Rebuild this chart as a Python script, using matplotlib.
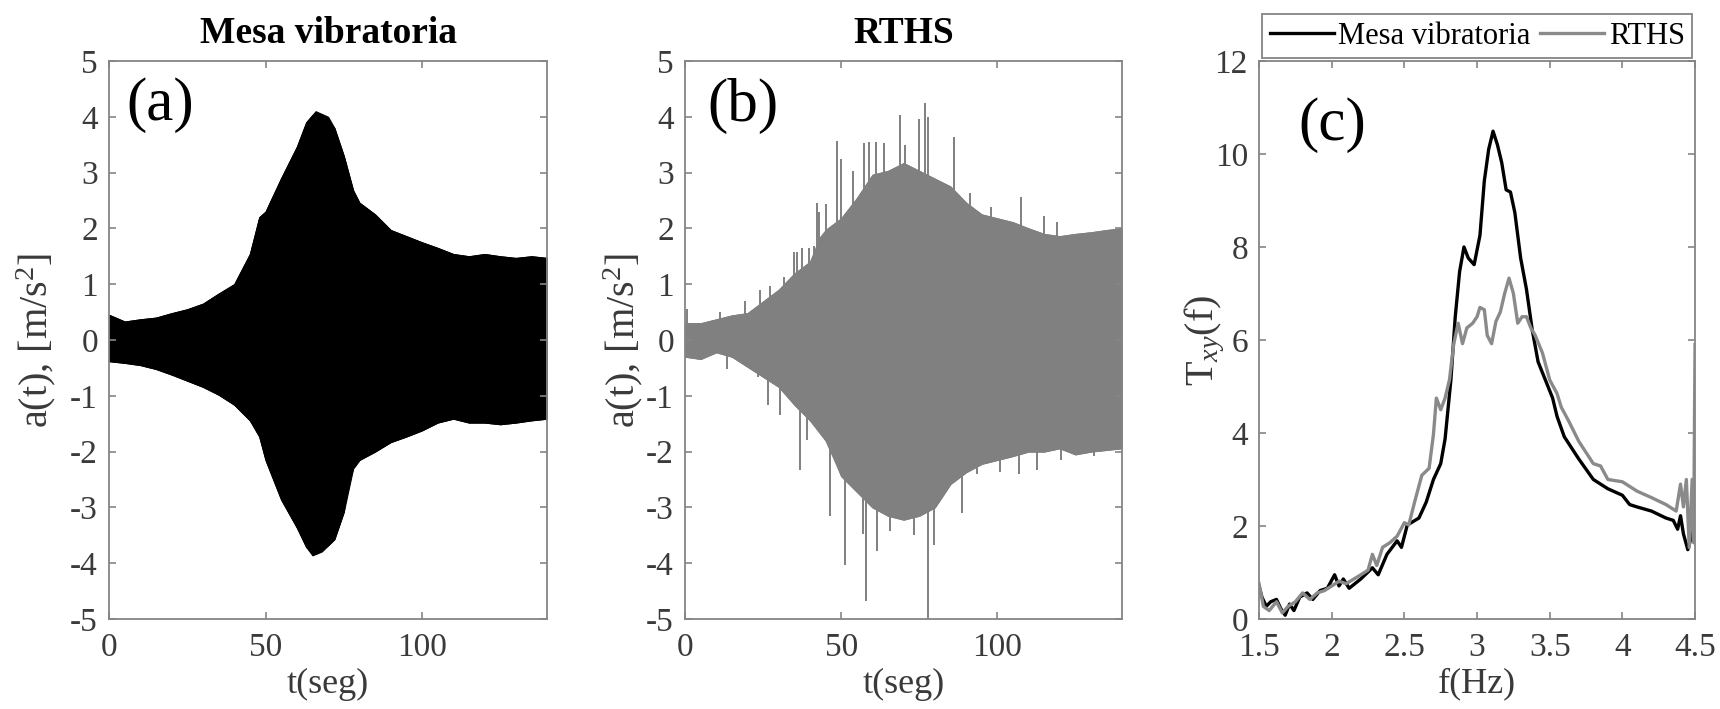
import numpy as np
import matplotlib
matplotlib.use("Agg")
import matplotlib.pyplot as plt

plt.rcParams["font.family"] = ["Liberation Serif", "DejaVu Serif"]
plt.rcParams["mathtext.fontset"] = "custom"
plt.rcParams["mathtext.rm"] = "Liberation Serif"
plt.rcParams["mathtext.it"] = "Liberation Serif:italic"
plt.rcParams["axes.unicode_minus"] = False

# --- (a) Mesa vibratoria: envelope of the acceleration record
t_a = [0, 5, 10, 15, 20, 25, 30, 35, 40, 45, 48, 50, 55, 60, 63, 66, 70, 72, 75, 78,
       80, 85, 90, 95, 100, 105, 110, 115, 120, 125, 130, 135, 140]
up_a = [0.45, 0.33, 0.37, 0.40, 0.48, 0.55, 0.65, 0.83, 1.0, 1.54, 2.2, 2.3, 2.9, 3.46, 3.9,
        4.1, 4.0, 3.8, 3.3, 2.68, 2.46, 2.25, 1.97, 1.86, 1.75, 1.65, 1.54, 1.5, 1.54, 1.5,
        1.47, 1.5, 1.47]
t_a_lo = [0, 5, 10, 15, 20, 25, 30, 35, 40, 45, 48, 50, 55, 60, 63, 65, 68, 72, 75, 76,
          78, 80, 85, 90, 95, 100, 105, 110, 115, 120, 125, 130, 135, 140]
lo_a = [-0.38, -0.41, -0.45, -0.52, -0.62, -0.73, -0.84, -0.98, -1.16, -1.44, -1.73, -2.15,
        -2.86, -3.36, -3.71, -3.86, -3.79, -3.57, -3.08, -2.65, -2.3, -2.15, -2.0, -1.83,
        -1.73, -1.62, -1.48, -1.41, -1.48, -1.48, -1.51, -1.48, -1.44, -1.41]

# --- (b) RTHS: envelope + isolated peaks
t_b = [0, 5, 10, 15, 20, 25, 30, 35, 40, 43, 45, 50, 55, 60, 65, 70, 75, 80, 85, 90, 95,
       100, 105, 110, 115, 120, 125, 130, 135, 140]
up_b = [0.3, 0.3, 0.37, 0.44, 0.48, 0.69, 0.9, 1.19, 1.4, 1.83, 1.97, 2.18, 2.54, 2.96,
        3.03, 3.17, 3.03, 2.89, 2.75, 2.46, 2.25, 2.18, 2.11, 2.0, 1.9, 1.86, 1.9, 1.93,
        1.97, 2.0]
t_b_lo = [0, 5, 10, 15, 20, 25, 30, 35, 40, 45, 48, 50, 55, 60, 65, 70, 75, 80, 85, 90,
          95, 100, 105, 110, 115, 120, 125, 130, 135, 140]
lo_b = [-0.3, -0.34, -0.22, -0.3, -0.48, -0.66, -0.84, -1.16, -1.44, -1.8, -2.15, -2.44,
        -2.72, -3.0, -3.15, -3.22, -3.15, -3.0, -2.58, -2.37, -2.22, -2.15, -2.08, -2.0,
        -2.0, -1.94, -2.05, -2.0, -1.97, -1.94]
peak_t = [0.5, 11.2, 19.3, 24.1, 27.3, 31.6, 35.0, 35.8, 37.4, 39.6, 41.2, 42.2, 42.8, 45.2,
          48.7, 50.0, 53.8, 57.2, 59.0, 61.0, 63.6, 69.0, 70.6, 74.9, 76.8, 77.8, 86.1, 91.4,
          97.9, 107.5, 114.9, 119.2,
          13.4, 23.2, 26.7, 30.5, 36.9, 39.0, 46.5, 51.3, 57.0, 57.9, 61.5, 65.8, 73.3, 77.9,
          79.7, 88.8, 93.6, 101.0, 106.9, 112.8, 120.3, 131.0]
peak_v = [0.55, 0.51, 0.69, 0.9, 0.97, 1.12, 1.58, 1.58, 1.65, 1.65, 1.68, 2.46, 2.29, 2.43,
          3.57, 3.25, 3.03, 3.53, 3.54, 3.54, 3.53, 4.03, 3.49, 3.96, 4.24, 3.99, 3.64, 2.64,
          2.39, 2.57, 2.22, 2.11,
          -0.52, -0.66, -1.16, -1.34, -2.33, -1.8, -3.15, -4.03, -3.47, -4.67, -3.79, -3.43,
          -3.5, -5.0, -3.68, -3.11, -2.4, -2.37, -2.4, -2.33, -2.15, -2.08]

# --- (c) transfer functions
f_mesa = [1.5, 1.52, 1.55, 1.58, 1.62, 1.65, 1.68, 1.71, 1.74, 1.78, 1.83, 1.87, 1.92, 1.97,
          2.02, 2.05, 2.08, 2.12, 2.2, 2.28, 2.32, 2.38, 2.45, 2.48, 2.52, 2.6, 2.65, 2.7,
          2.75, 2.78, 2.82, 2.85, 2.88, 2.91, 2.94, 2.98, 3.02, 3.05, 3.08, 3.11, 3.14, 3.17,
          3.2, 3.23, 3.26, 3.3, 3.34, 3.38, 3.42, 3.47, 3.52, 3.55, 3.6, 3.7, 3.8, 3.9, 4.0,
          4.05, 4.1, 4.2, 4.3, 4.35, 4.38, 4.4, 4.42, 4.45, 4.48, 4.5]
T_mesa = [0.7, 0.47, 0.27, 0.37, 0.42, 0.22, 0.08, 0.32, 0.18, 0.47, 0.56, 0.42, 0.61, 0.66,
          0.95, 0.71, 0.86, 0.66, 0.86, 1.1, 0.95, 1.39, 1.68, 1.54, 2.02, 2.17, 2.51, 3.0,
          3.34, 3.87, 5.14, 6.5, 7.47, 8.0, 7.76, 7.62, 8.25, 9.42, 10.1, 10.49, 10.2, 9.81,
          9.23, 9.18, 8.74, 7.76, 7.09, 6.21, 5.53, 5.14, 4.75, 4.36, 3.92, 3.44, 3.0, 2.8,
          2.66, 2.46, 2.41, 2.32, 2.17, 2.12, 1.93, 2.22, 1.83, 1.49, 1.83, 2.12]
f_rths = [1.5, 1.53, 1.57, 1.62, 1.66, 1.7, 1.75, 1.8, 1.85, 1.9, 1.95, 2.0, 2.05, 2.1, 2.2,
          2.25, 2.28, 2.31, 2.35, 2.4, 2.45, 2.5, 2.53, 2.57, 2.62, 2.67, 2.7, 2.72, 2.75,
          2.78, 2.81, 2.84, 2.87, 2.9, 2.93, 2.97, 3.0, 3.02, 3.05, 3.07, 3.1, 3.13, 3.16,
          3.19, 3.22, 3.25, 3.28, 3.31, 3.34, 3.37, 3.4, 3.45, 3.5, 3.55, 3.58, 3.63, 3.7,
          3.8, 3.85, 3.9, 4.0, 4.1, 4.2, 4.3, 4.37, 4.4, 4.42, 4.44, 4.46, 4.48, 4.49, 4.5]
T_rths = [0.76, 0.27, 0.18, 0.37, 0.13, 0.27, 0.37, 0.56, 0.42, 0.56, 0.61, 0.71, 0.81, 0.76,
          0.95, 1.05, 1.39, 1.15, 1.54, 1.64, 1.78, 2.07, 2.02, 2.51, 3.09, 3.24, 3.97, 4.75,
          4.5, 4.75, 5.14, 5.92, 6.36, 5.92, 6.26, 6.36, 6.5, 6.7, 6.65, 6.1, 5.92, 6.4, 6.6,
          7.0, 7.33, 7.0, 6.36, 6.5, 6.5, 6.26, 6.1, 5.72, 5.14, 4.85, 4.55, 4.26, 3.82, 3.34,
          3.29, 3.0, 2.95, 2.75, 2.61, 2.46, 2.32, 2.9, 2.41, 3.0, 1.54, 3.0, 1.64, 5.9]

GRAY = "#808080"
SPINE = "#858585"
LABEL = "#3a3a3a"
TICK_FS = 24

fig = plt.figure(figsize=(17.2, 7.09), dpi=100)
ax_a = fig.add_axes([0.0634, 0.127, 0.2547, 0.787])
ax_b = fig.add_axes([0.3983, 0.127, 0.2541, 0.787])
ax_c = fig.add_axes([0.7320, 0.127, 0.2535, 0.787])


def style(ax):
    for s in ax.spines.values():
        s.set_color(SPINE)
        s.set_linewidth(1.3)
    ax.tick_params(direction="in", top=True, right=True, length=5, width=1.2,
                   color=SPINE, labelcolor=LABEL, labelsize=TICK_FS)
    ax.tick_params(axis="x", pad=10)
    ax.tick_params(axis="y", pad=8)


# (a)
ax_a.fill_between(t_a, np.interp(t_a, t_a_lo, lo_a), up_a, color="black", lw=0.8,
                  edgecolor="black")
ax_a.fill_between(t_a_lo, lo_a, np.interp(t_a_lo, t_a, up_a), color="black", lw=0.8,
                  edgecolor="black")
ax_a.set_xlim(0, 140)
ax_a.set_ylim(-5, 5)
ax_a.set_yticks(range(-5, 6))
ax_a.set_xticks([0, 50, 100])
ax_a.set_title("Mesa vibratoria", fontsize=27, fontweight="bold", pad=13)
ax_a.set_xlabel("t(seg)", fontsize=26, color=LABEL, labelpad=3)
ax_a.set_ylabel("a(t), [m/s$^{2}$]", fontsize=29, color=LABEL, labelpad=9)
ax_a.text(0.04, 0.97, "(a)", transform=ax_a.transAxes, fontsize=44, va="top", ha="left")
style(ax_a)

# (b)
ax_b.fill_between(t_b_lo, lo_b, np.interp(t_b_lo, t_b, up_b), color=GRAY, lw=0.8,
                  edgecolor=GRAY)
ax_b.fill_between(t_b, np.interp(t_b, t_b_lo, lo_b), up_b, color=GRAY, lw=0.8,
                  edgecolor=GRAY)
ax_b.vlines(peak_t, 0, peak_v, color=GRAY, lw=1.4)
ax_b.set_xlim(0, 140)
ax_b.set_ylim(-5, 5)
ax_b.set_yticks(range(-5, 6))
ax_b.set_xticks([0, 50, 100])
ax_b.set_title("RTHS", fontsize=27, fontweight="bold", pad=13)
ax_b.set_xlabel("t(seg)", fontsize=26, color=LABEL, labelpad=3)
ax_b.set_ylabel("a(t), [m/s$^{2}$]", fontsize=29, color=LABEL, labelpad=1)
ax_b.text(0.05, 0.97, "(b)", transform=ax_b.transAxes, fontsize=44, va="top", ha="left")
style(ax_b)

# (c)
ax_c.plot(f_mesa, T_mesa, color="black", lw=2.4, label="Mesa vibratoria")
ax_c.plot(f_rths, T_rths, color="#8a8a8a", lw=2.4, label="RTHS")
ax_c.set_xlim(1.5, 4.5)
ax_c.set_ylim(0, 12)
ax_c.set_xticks([1.5, 2, 2.5, 3, 3.5, 4, 4.5])
ax_c.set_xticklabels(["1.5", "2", "2.5", "3", "3.5", "4", "4.5"])
ax_c.set_yticks(range(0, 13, 2))
ax_c.set_xlabel("f(Hz)", fontsize=26, color=LABEL, labelpad=3)
ax_c.set_ylabel("T$_{xy}$(f)", fontsize=29, color=LABEL, labelpad=-9)
ax_c.text(0.09, 0.935, "(c)", transform=ax_c.transAxes, fontsize=44, va="top", ha="left")
leg = ax_c.legend(loc="lower center", bbox_to_anchor=(0.5, 1.005), ncol=2, fontsize=22,
                  handlelength=2.1, handletextpad=0.15, columnspacing=0.3,
                  borderaxespad=0, borderpad=0.25, fancybox=False, framealpha=1)
leg.get_frame().set_edgecolor(SPINE)
leg.get_frame().set_linewidth(1.3)
style(ax_c)

fig.savefig("out.png", dpi=100)
